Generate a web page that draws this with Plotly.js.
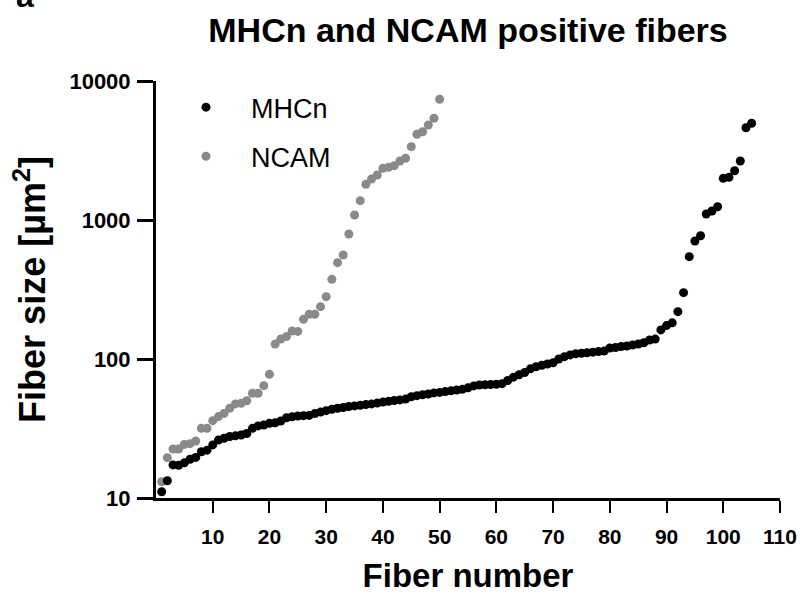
<!DOCTYPE html>
<html>
<head>
<meta charset="utf-8">
<script src="https://cdn.plot.ly/plotly-3.0.1.min.js"></script>
<style>html,body{margin:0;padding:0;background:#fff;}#chart{width:802px;height:606px;}</style>
</head>
<body>
<div id="chart"></div>
<script>
// Fiber sizes (µm²), sorted ascending, indexed by fiber number
const mhcnSizes = [11.1, 13.3, 17.3, 17.2, 17.9, 19.0, 19.6, 21.5, 22.1, 24.1,
  26.1, 26.9, 27.7, 28.0, 28.4, 29.1, 31.7, 33.0, 33.5, 34.5,
  34.8, 35.8, 37.8, 38.4, 38.9, 39.1, 39.3, 40.5, 41.5, 42.5,
  43.5, 44.2, 44.8, 45.5, 46.0, 46.5, 47.0, 47.5, 48.2, 49.0,
  49.6, 50.3, 50.8, 51.5, 53.5, 54.5, 55.3, 56.0, 57.0, 57.5,
  58.3, 59.0, 59.8, 60.5, 62.0, 64.0, 65.0, 65.3, 65.5, 65.8,
  66.5, 70.0, 74.0, 77.0, 80.0, 85.0, 88.0, 90.0, 92.0, 94.0,
  100, 104, 107, 109, 110, 111, 112, 113, 114, 120,
  121, 123, 124, 126, 128, 131, 137, 139, 162, 174,
  182, 219, 300, 545, 706, 771, 1105, 1161, 1246, 1995,
  2028, 2263, 2657, 4613, 4962];
const ncamSizes = [13.1, 19.5, 22.5, 22.5, 24.3, 24.6, 25.7, 31.7, 31.7, 36,
  38.5, 40.6, 44.2, 47.5, 48, 50.1, 56.7, 56.7, 64.3, 77.6,
  128, 139, 145, 159, 158, 193, 210, 210, 238, 281,
  374, 493, 560, 793, 1086, 1377, 1806, 1972, 2108, 2354,
  2393, 2460, 2657, 2780, 3369, 4136, 4318, 4826, 5395, 7387];
const mhcnFiberNumbers = mhcnSizes.map((_, i) => i + 1);
const ncamFiberNumbers = ncamSizes.map((_, i) => i + 1);
const xTickValues = [10, 20, 30, 40, 50, 60, 70, 80, 90, 100, 110];
const yTickValues = [10, 100, 1000, 10000];
const yTickLabels = ['10', '100', '1000', '10000'];

const FONT = 'Liberation Sans, Arial, sans-serif';

const traces = [
  {
    x: ncamFiberNumbers, y: ncamSizes, name: 'NCAM', type: 'scatter', mode: 'markers',
    marker: {color: '#8a8a8a', size: 9}, legendrank: 2, legendgroup: 'b', cliponaxis: false
  },
  {
    x: mhcnFiberNumbers, y: mhcnSizes, name: 'MHCn', type: 'scatter', mode: 'markers',
    marker: {color: '#000000', size: 9}, legendrank: 1, legendgroup: 'a', cliponaxis: false
  }
];

const layout = {
  width: 802, height: 606,
  margin: {l: 156, r: 22, t: 81, b: 108},
  paper_bgcolor: '#fff', plot_bgcolor: '#fff',
  font: {family: FONT, color: '#000'},
  showlegend: true,
  title: {
    text: 'MHCn and NCAM positive fibers',
    font: {family: FONT, size: 34, weight: 'bold', color: '#000'},
    xref: 'paper', x: 0.5, xanchor: 'center',
    yref: 'container', y: 1 - 30 / 606, yanchor: 'middle'
  },
  xaxis: {
    range: [0, 110], tickmode: 'array', tickvals: xTickValues,
    showline: true, linewidth: 3, linecolor: '#000', mirror: false,
    ticks: 'outside', ticklen: 12, tickwidth: 2, tickcolor: '#000',
    ticklabelstandoff: 6,
    tickfont: {family: FONT, size: 21, weight: 'bold', color: '#000'},
    showgrid: false, zeroline: false,
    title: {text: 'Fiber number', font: {family: FONT, size: 33, weight: 'bold', color: '#000'}, standoff: 17}
  },
  yaxis: {
    type: 'log', range: [1, 4], tickmode: 'array', tickvals: yTickValues, ticktext: yTickLabels,
    showline: true, linewidth: 3, linecolor: '#000',
    ticks: 'outside', ticklen: 16, tickwidth: 3, tickcolor: '#000',
    ticklabelstandoff: 2,
    tickfont: {family: FONT, size: 22, weight: 'bold', color: '#000'},
    showgrid: false, zeroline: false,
    title: {text: 'Fiber size [µm<sup>2</sup>]', font: {family: FONT, size: 36, weight: 'bold', color: '#000'}, standoff: 13}
  },
  legend: {
    x: 0.008, y: 0.995, xanchor: 'left', yanchor: 'top',
    font: {family: FONT, size: 27, color: '#000'},
    bgcolor: 'rgba(0,0,0,0)', borderwidth: 0,
    tracegroupgap: 11, itemwidth: 80
  },
  annotations: [{
    text: '<b>a</b>', xref: 'paper', yref: 'paper', x: -0.21, y: 1.205,
    xanchor: 'center', yanchor: 'middle', showarrow: false,
    font: {family: FONT, size: 32, color: '#000'}
  }]
};

Plotly.newPlot('chart', traces, layout, {displayModeBar: false, staticPlot: true});
</script>
</body>
</html>
